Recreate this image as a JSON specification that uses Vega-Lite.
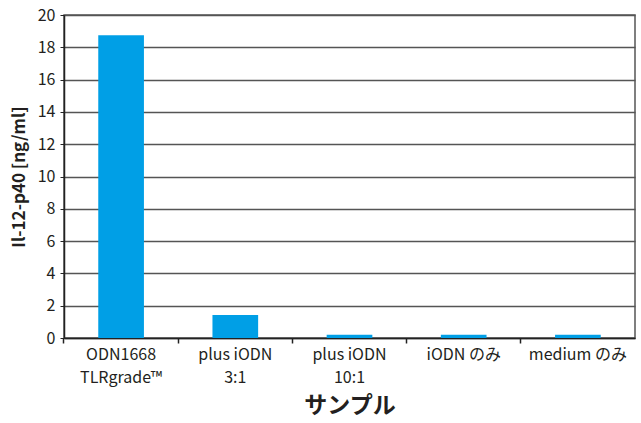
{
  "$schema": "https://vega.github.io/schema/vega-lite/v6.json",
  "autosize": {"type": "none"},
  "width": 571,
  "height": 323,
  "padding": {"left": 64, "top": 15, "right": 6, "bottom": 85},
  "background": "white",
  "config": {
    "font": "Noto Sans CJK JP",
    "view": {"stroke": "#555555", "strokeWidth": 1.5},
    "axis": {"labelFont": "Noto Sans CJK JP", "titleFont": "Noto Sans CJK JP"}
  },
  "data": {
    "values": [
      {"sample": "ODN1668|TLRgrade™", "value": 18.75},
      {"sample": "plus iODN|3:1", "value": 1.42},
      {"sample": "plus iODN|10:1", "value": 0.2},
      {"sample": "iODN のみ", "value": 0.2},
      {"sample": "medium のみ", "value": 0.2}
    ]
  },
  "resolve": {"axis": {"x": "independent"}},
  "layer": [
    {
      "mark": {"type": "bar", "color": "#009FE6"},
      "encoding": {
        "x": {
          "field": "sample",
          "type": "nominal",
          "sort": null,
          "scale": {"paddingInner": 0.6, "paddingOuter": 0.3},
          "axis": {
            "orient": "bottom",
            "title": "サンプル",
            "titleFontSize": 23,
            "titleFontWeight": "bold",
            "titleColor": "#231f20",
            "titlePadding": 9,
            "labelAngle": 0,
            "labelFontSize": 16,
            "labelColor": "#231f20",
            "labelPadding": 8,
            "labelLineHeight": 23,
            "labelBaseline": "top",
            "labelExpr": "split(datum.value, '|')",
            "ticks": false,
            "domainColor": "#222222",
            "domainWidth": 1.5
          }
        },
        "y": {
          "field": "value",
          "type": "quantitative",
          "scale": {"domain": [0, 20], "nice": false},
          "axis": {
            "title": "Il-12-p40 [ng/ml]",
            "titleFontSize": 17,
            "titleFontWeight": "bold",
            "titleColor": "#231f20",
            "titlePadding": 9,
            "values": [0, 2, 4, 6, 8, 10, 12, 14, 16, 18, 20],
            "labelFontSize": 16,
            "labelColor": "#231f20",
            "labelPadding": 5,
            "labelOverlap": false,
            "tickSize": 4,
            "tickColor": "#222222",
            "gridColor": "#555555",
            "gridWidth": 1.5,
            "gridOpacity": 1,
            "domainColor": "#222222",
            "domainWidth": 1.5
          }
        }
      }
    },
    {
      "mark": {"type": "bar", "opacity": 0},
      "encoding": {
        "x": {
          "field": "sample",
          "type": "nominal",
          "sort": null,
          "axis": {
            "orient": "bottom",
            "title": null,
            "labels": false,
            "domain": false,
            "grid": false,
            "ticks": true,
            "tickSize": 5,
            "tickColor": "#222222",
            "tickWidth": 1.5,
            "bandPosition": -0.75
          }
        }
      }
    }
  ]
}
